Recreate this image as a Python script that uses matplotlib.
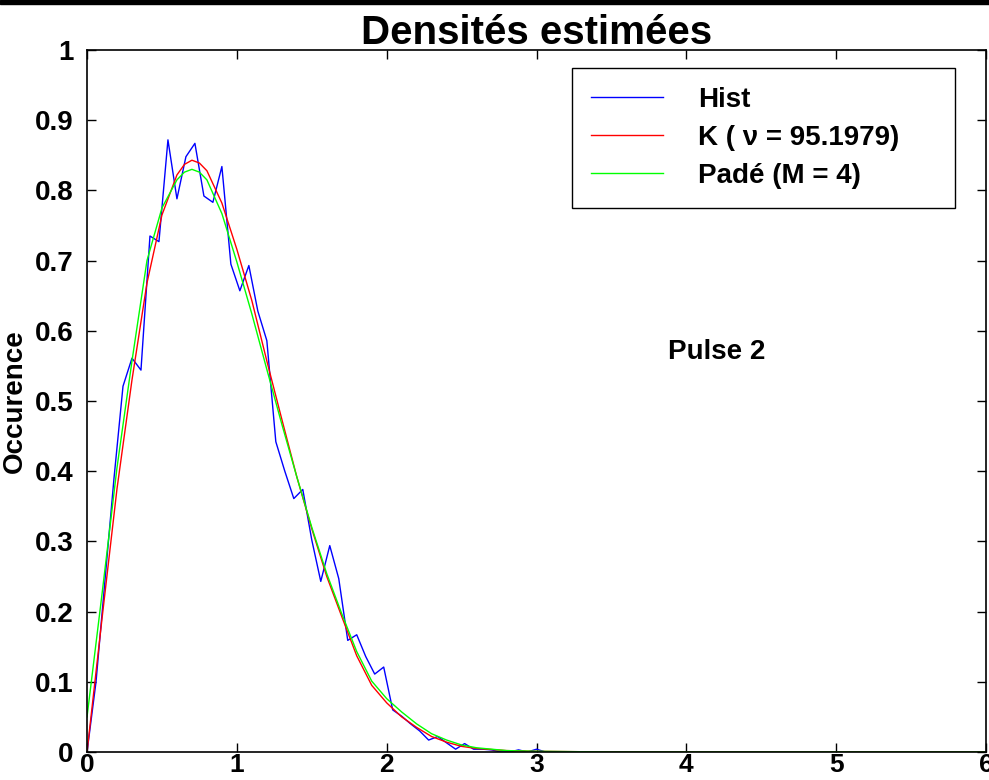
import matplotlib
matplotlib.use('Agg')
import matplotlib.pyplot as plt
from matplotlib.patches import Rectangle

plt.rcParams['font.family'] = ['Liberation Sans', 'DejaVu Sans']
plt.rcParams['font.weight'] = 'bold'

# Histogramme (pas de 0.06)
hist_x = [0.06 * i for i in range(56)]
hist_y = [0.0, 0.10, 0.245, 0.39, 0.521, 0.561, 0.544, 0.735, 0.727, 0.872,
          0.788, 0.848, 0.867, 0.792, 0.783, 0.834, 0.695, 0.657, 0.693, 0.628,
          0.586, 0.442, 0.40, 0.361, 0.374, 0.302, 0.243, 0.294, 0.247, 0.159,
          0.167, 0.136, 0.111, 0.121, 0.060, 0.051, 0.040, 0.030, 0.017, 0.022,
          0.013, 0.004, 0.012, 0.004, 0.004, 0.003, 0.0, 0.0, 0.003, 0.0,
          0.004, 0.0, 0.0, 0.0, 0.0, 0.0]

# Densite K
k_x = [0.0, 0.1, 0.2, 0.3, 0.4, 0.5, 0.6, 0.65, 0.7, 0.75, 0.8, 0.9, 1.0, 1.1,
       1.2, 1.3, 1.4, 1.5, 1.6, 1.7, 1.8, 1.9, 2.0, 2.1, 2.2, 2.3, 2.4, 2.5,
       2.6, 2.8, 3.0, 3.5, 6.0]
k_y = [0.0, 0.19, 0.375, 0.53, 0.668, 0.765, 0.822, 0.837, 0.843, 0.839, 0.828,
       0.782, 0.716, 0.643, 0.557, 0.474, 0.392, 0.318, 0.25, 0.193, 0.137,
       0.095, 0.070, 0.050, 0.035, 0.022, 0.014, 0.008, 0.005, 0.002, 0.001,
       0.0, 0.0]

# Approximation de Pade
p_x = k_x
p_y = [0.05, 0.225, 0.405, 0.557, 0.70, 0.775, 0.815, 0.826, 0.830, 0.826,
       0.815, 0.767, 0.698, 0.624, 0.545, 0.467, 0.392, 0.320, 0.254, 0.197,
       0.143, 0.101, 0.076, 0.057, 0.040, 0.026, 0.017, 0.010, 0.006, 0.002,
       0.001, 0.0, 0.0]

x_ticks = [0, 1, 2, 3, 4, 5, 6]
y_ticks = [0, 0.1, 0.2, 0.3, 0.4, 0.5, 0.6, 0.7, 0.8, 0.9, 1.0]
y_tick_labels = ['0', '0.1', '0.2', '0.3', '0.4', '0.5', '0.6', '0.7', '0.8', '0.9', '1']

fig = plt.figure(figsize=(9.89, 7.80), dpi=100)
ax = fig.add_axes([0.088, 0.0359, 0.909, 0.9000])

ax.plot(hist_x, hist_y, color='#0000ff', lw=1.0, label='Hist')
ax.plot(k_x, k_y, color='#ff0000', lw=1.0, label='K ( ν = 95.1979)')
ax.plot(p_x, p_y, color='#00ff00', lw=1.0, label='Padé (M = 4)')

ax.set_xlim(0, 6)
ax.set_ylim(0, 1)
ax.set_xticks(x_ticks)
ax.set_xticklabels([str(t) for t in x_ticks])
ax.set_yticks(y_ticks)
ax.set_yticklabels(y_tick_labels)
ax.tick_params(direction='in', length=6.5, width=1.0, labelsize=20,
               top=True, right=True)
ax.tick_params(axis='y', pad=10)
ax.tick_params(axis='x', pad=1, labelsize=19)
for s in ax.spines.values():
    s.set_linewidth(1.2)

ax.set_title('Densités estimées', fontsize=29, fontweight='bold', pad=4)
ax.set_ylabel('Occurence', fontsize=20, fontweight='bold', labelpad=5)
ax.text(4.2, 0.57, 'Pulse 2', fontsize=20, fontweight='bold',
        ha='center', va='center')

leg = ax.legend(loc='upper left', bbox_to_anchor=(0.5395, 0.769, 0.426, 0.205),
                mode='expand', fontsize=20, frameon=True, fancybox=False,
                edgecolor='black', framealpha=1, handlelength=2.6,
                handletextpad=1.25, labelspacing=0.43, borderpad=0.68,
                borderaxespad=0)
leg.get_frame().set_linewidth(1.0)

fig.add_artist(Rectangle((0, 1 - 4 / 780), 1, 4 / 780, transform=fig.transFigure,
                         color='black'))

fig.savefig('out.png', dpi=100)
